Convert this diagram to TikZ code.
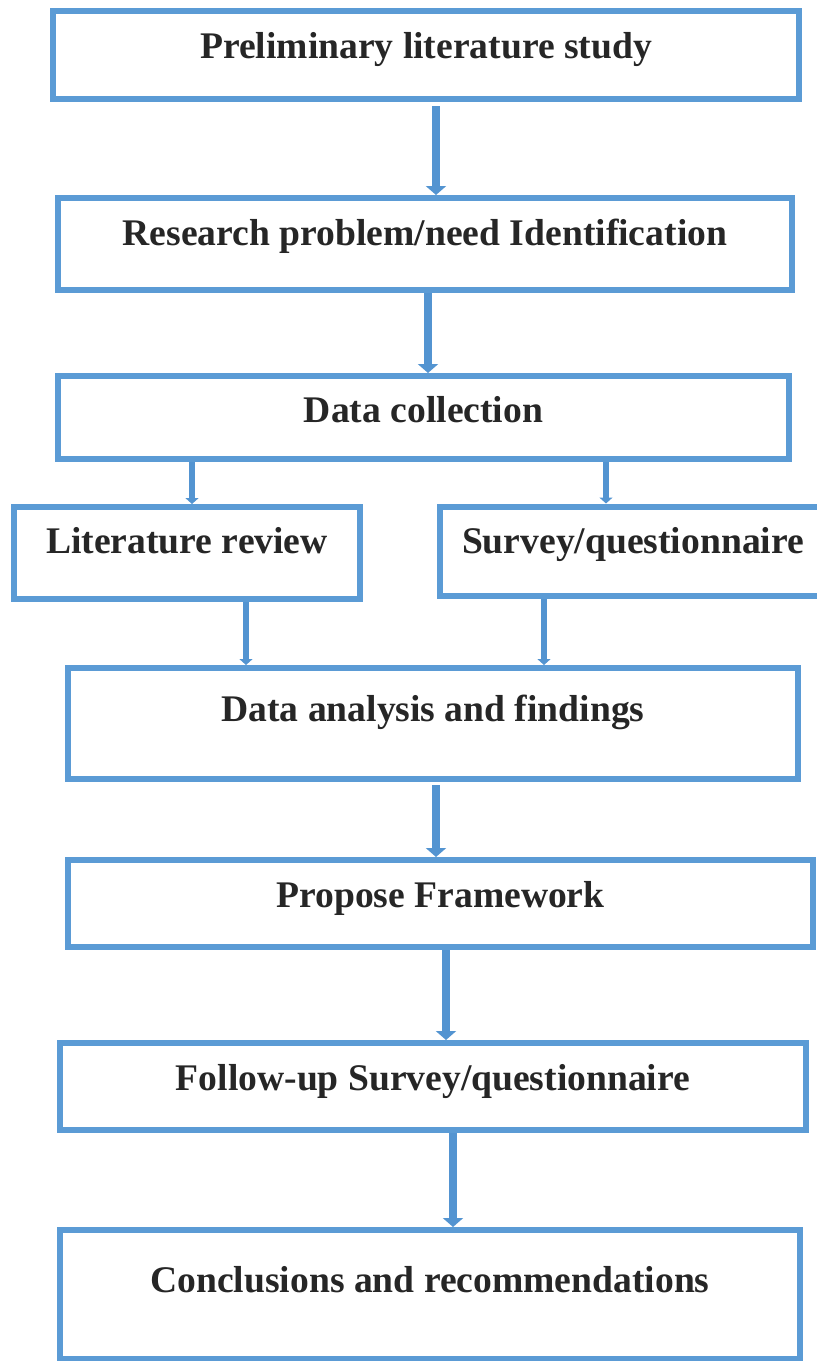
\documentclass[tikz,border=0pt]{standalone}
\usepackage{fontspec}
\setmainfont{Liberation Serif}
\usepackage{tikz}
\usetikzlibrary{arrows.meta}

\definecolor{boxblue}{HTML}{5B9BD5}
\definecolor{arrowblue}{HTML}{5394D1}
\definecolor{inkgrey}{HTML}{262626}

\begin{document}
\begin{tikzpicture}[x=1pt, y=-1pt,
	stage/.style={draw=boxblue, line width=6pt, rectangle, inner sep=0pt, anchor=base, text=inkgrey, font=\fontsize{37.6}{44}\selectfont\bfseries},
	flow/.style={draw=arrowblue, line width=8.5pt, -{Triangle[width=20pt, length=9pt]}},
	branch/.style={draw=arrowblue, line width=6pt, -{Triangle[width=13pt, length=6pt]}}]

% Page frame
\useasboundingbox (0,0) rectangle (817,1361);
\clip (0,0) rectangle (817,1361);

% Stages (anchored at the text baseline)
\node[stage, minimum width=746pt, text height=47pt, text depth=41pt] (prelim) at (426,58) {Preliminary literature study};
\node[stage, minimum width=734pt, text height=47pt, text depth=45pt] (problem) at (425,245) {Research problem/need Identification};
\node[stage, minimum width=731pt, text height=46pt, text depth=37pt] (collect) at (423.5,422) {Data collection};
\node[stage, minimum width=346pt, text height=46pt, text depth=46pt] (litrev) at (187,553) {Literature review};
\node[stage, minimum width=386pt, text height=46.5pt, text depth=43pt] (survey) at (633,553) {Survey/questionnaire};
\node[stage, minimum width=730pt, text height=53pt, text depth=58pt] (analysis) at (433,721) {Data analysis and findings};
\node[stage, minimum width=745pt, text height=47pt, text depth=40pt] (framework) at (440.5,907) {Propose Framework};
\node[stage, minimum width=746pt, text height=47pt, text depth=40pt] (followup) at (433,1090) {Follow-up Survey/questionnaire};
\node[stage, minimum width=740pt, text height=62pt, text depth=66.5pt] (concl) at (430,1292) {Conclusions and recommendations};

% Main column
\draw[flow] ([xshift=10pt, yshift=-4pt]prelim.south) -- ([xshift=11pt]problem.north);
\draw[flow] ([xshift=3pt]problem.south) -- ([xshift=4.5pt]collect.north);

% Split into the two data sources
\draw[branch] ([xshift=-231.5pt]collect.south) -- ([xshift=5pt]litrev.north);
\draw[branch] ([xshift=182.5pt]collect.south) -- ([xshift=-27pt]survey.north);

% Merge into the analysis
\draw[branch] ([xshift=59pt]litrev.south) -- ([xshift=-187pt]analysis.north);
\draw[branch] ([xshift=-89pt]survey.south) -- ([xshift=111pt]analysis.north);

% Rest of the column
\draw[flow] ([xshift=3pt, yshift=-3pt]analysis.south) -- ([xshift=-4.5pt]framework.north);
\draw[flow] ([xshift=5.5pt]framework.south) -- ([xshift=13pt]followup.north);
\draw[flow] ([xshift=20pt]followup.south) -- ([xshift=23pt]concl.north);

\end{tikzpicture}
\end{document}
